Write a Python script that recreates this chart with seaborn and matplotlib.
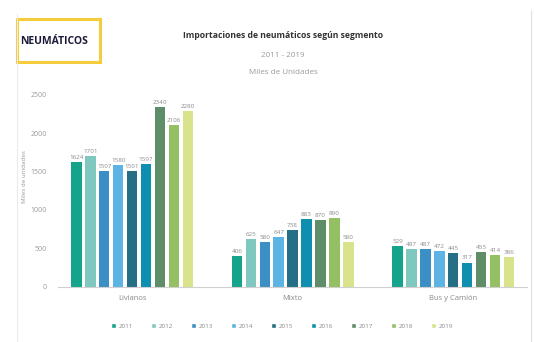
import matplotlib
matplotlib.use("Agg")
import matplotlib.pyplot as plt
from matplotlib.patches import Rectangle
from matplotlib.lines import Line2D
import seaborn as sns
import pandas as pd

segmentos = ["Livianos", "Mixto", "Bus y Camión"]
anios = ["2011", "2012", "2013", "2014", "2015", "2016", "2017", "2018", "2019"]
livianos = [1624, 1701, 1507, 1580, 1501, 1597, 2340, 2106, 2280]
mixto = [406, 625, 580, 647, 738, 883, 870, 890, 580]
bus_camion = [529, 487, 487, 472, 445, 317, 455, 414, 386]
colores = ["#14a38b", "#7fc8bf", "#3b8fc4", "#5db3e3", "#246f86",
           "#0e8fb0", "#5e8d68", "#94bf63", "#d9e38c"]

rows = []
for seg, vals in zip(segmentos, [livianos, mixto, bus_camion]):
    for a, v in zip(anios, vals):
        rows.append({"segmento": seg, "anio": a, "valor": v})
df = pd.DataFrame(rows)

sns.set_theme(style="white")
plt.rcParams["font.family"] = ["Open Sans", "DejaVu Sans"]

fig = plt.figure(figsize=(5.34, 3.42), dpi=100)
ax = fig.add_axes([0.109, 0.161, 0.878, 0.585])

sns.barplot(data=df, x="segmento", y="valor", hue="anio", order=segmentos,
            hue_order=anios, palette=colores, width=0.78, gap=0.25, saturation=1,
            linewidth=0, legend=False, ax=ax)

for cont in ax.containers:
    ax.bar_label(cont, fmt="%d", fontsize=4.5, color="#8a8a8a", padding=1.5)

ax.set_ylim(0, 2600)
ax.set_xlim(-0.46, 2.46)
ax.set_yticks([0, 500, 1000, 1500, 2000, 2500])
ax.set_yticklabels(["0", "500", "1000", "1500", "2000", "2500"])
ax.tick_params(axis="y", labelsize=5, colors="#9a9a9a", length=0, pad=8)
ax.tick_params(axis="x", labelsize=5.5, colors="#8a8a8a", length=0, pad=6)
ax.set_xlabel("")
ax.set_ylabel("Miles de unidades", fontsize=4.5, color="#9a9a9a", labelpad=6)
ax.yaxis.set_label_coords(-0.067, 0.55)
for s in ["top", "right", "left"]:
    ax.spines[s].set_visible(False)
ax.spines["bottom"].set_color("#d0d0d0")
ax.spines["bottom"].set_linewidth(0.8)

# Titles
fig.text(0.53, 0.897, "Importaciones de neumáticos según segmento", ha="center",
         va="center", fontsize=6.2, fontweight="bold", color="#333333")
fig.text(0.53, 0.838, "2011 - 2019", ha="center", va="center", fontsize=5.8, color="#9a9a9a")
fig.text(0.53, 0.788, "Miles de Unidades", ha="center", va="center", fontsize=5.8, color="#9a9a9a")

# Badge
fig.patches.append(Rectangle((17 / 534, 1 - 62 / 342), 83 / 534, 43 / 342,
                             transform=fig.transFigure, facecolor="white",
                             edgecolor="#f5cd3c", linewidth=2.2))
fig.text(54 / 534, 1 - 41 / 342, "NEUMÁTICOS", ha="center", va="center",
         fontsize=7.5, fontweight="bold", color="#1c1c3a")

# Side frame lines
fig.lines.append(Line2D([17 / 534, 17 / 534], [0, 1 - 14 / 342], transform=fig.transFigure,
                        color="#ececec", linewidth=0.8))
fig.lines.append(Line2D([531 / 534, 531 / 534], [0, 1 - 10 / 342], transform=fig.transFigure,
                        color="#e0e0e0", linewidth=0.8))

# Legend
handles = [Rectangle((0, 0), 1, 1, facecolor=c) for c in colores]
fig.legend(handles, anios, loc="center", bbox_to_anchor=(0.528, 0.048), ncol=9,
           frameon=False, fontsize=4.5, handlelength=0.8, handleheight=1.0,
           handletextpad=0.4, columnspacing=2.9, labelcolor="#8a8a8a")

fig.savefig("out.png", dpi=100, facecolor="white")
